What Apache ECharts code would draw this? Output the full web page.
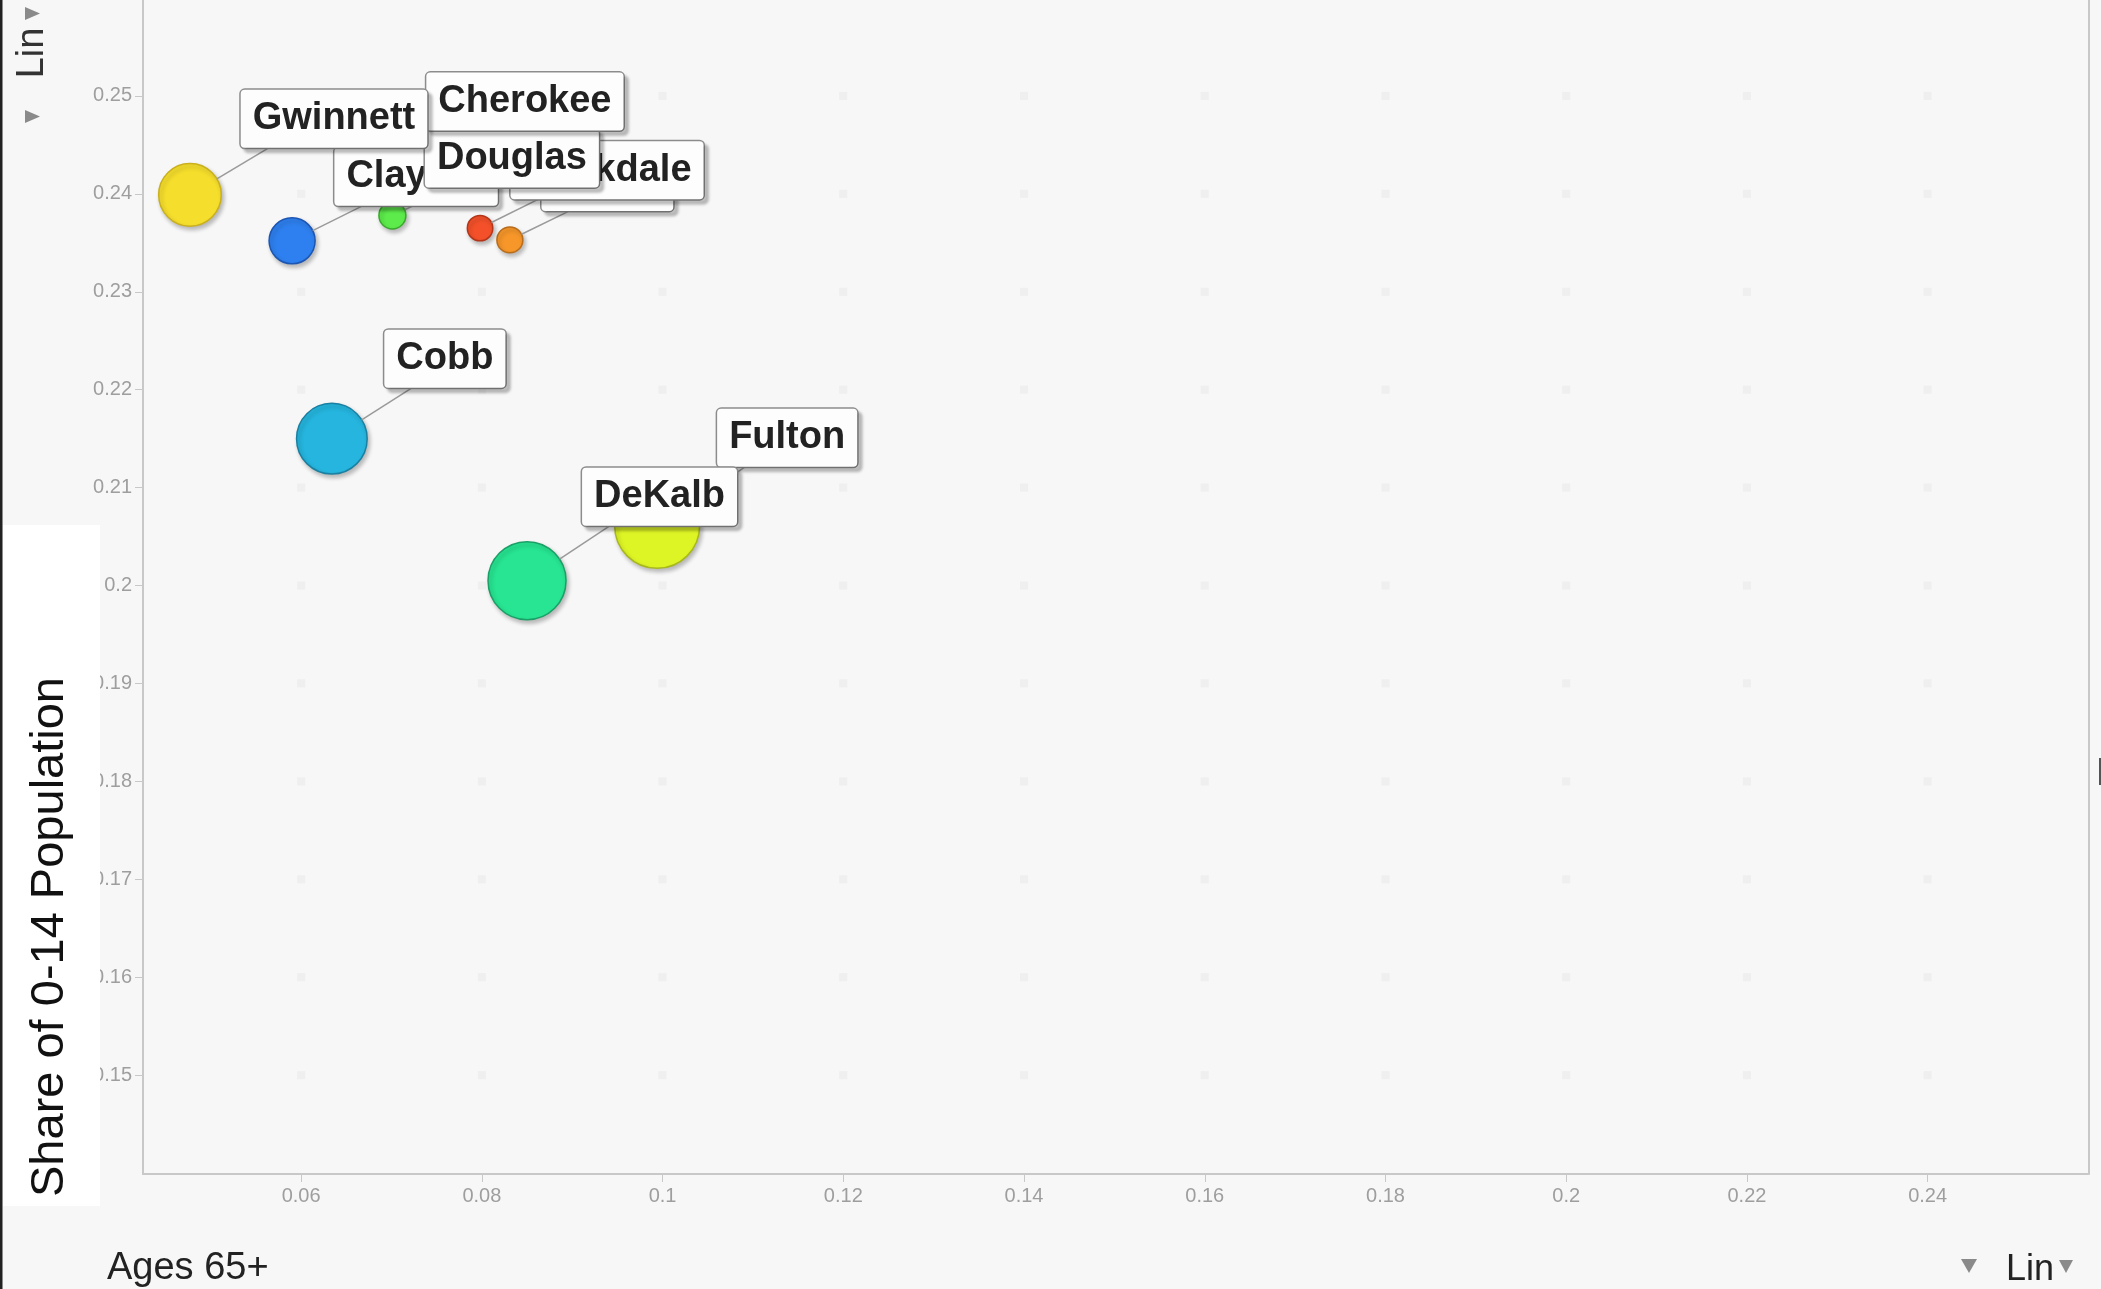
<!DOCTYPE html>
<html>
<head>
<meta charset="utf-8">
<script src="https://cdn.jsdelivr.net/npm/echarts@6/dist/echarts.min.js"></script>
<style>
html, body { margin: 0; padding: 0; background: #f7f7f7; }
#chart { width: 2101px; height: 1289px; }
</style>
</head>
<body>
<div id="chart"></div>
<script>
// data (tags later in the list are drawn on top)
var counties  = ['Cobb', 'Fulton', 'DeKalb', 'Henry', 'Clayton', 'Rockdale', 'Douglas', 'Cherokee', 'Gwinnett'];
var age65     = [0.0634, 0.0994, 0.0850, 0.0831, 0.0590, 0.0798, 0.0701, 0.0732, 0.0477];
var age0to14  = [0.2150, 0.2061, 0.2005, 0.2353, 0.2352, 0.2365, 0.2378, 0.2435, 0.2399];
var bubbleSize = [563, 816, 687, 76, 239, 73, 82, 80, 443];
var xTicks = [0.06, 0.08, 0.1, 0.12, 0.14, 0.16, 0.18, 0.2, 0.22, 0.24];
var yTicks = [0.15, 0.16, 0.17, 0.18, 0.19, 0.2, 0.21, 0.22, 0.23, 0.24, 0.25];

// styling
var fillColors = ['#25B5DE', '#DEF525', '#27E592', '#F7972A', '#2E80F0', '#F4512A', '#5DEB4B', '#A35AF0', '#F6DE2C'];
var edgeColors = ['#1a80a2', '#a8b81a', '#1aa066', '#b96c1a', '#1c56b4', '#b3361a', '#3aa82c', '#6a30b0', '#c9b01c'];
var labelOffsets = [[113, -80], [130, -88], [132.5, -84], [97.5, -58], [124, -64], [127, -58], [119.5, -57], [104.5, -58], [144, -76]];
var noLine = ['Cherokee'];
var FONT = 'Liberation Sans, Arial, sans-serif';
var TAG_FONT = 'bold 38px ' + FONT;
var TAG_H = 58, TAG_PADX = 12, LINE_INSET = 28;

var dots = [];
xTicks.forEach(function (x) {
    yTicks.forEach(function (y) { dots.push([x, y]); });
});

var points = counties.map(function (name, i) {
    return [age65[i], age0to14[i], bubbleSize[i]];
});

var bubbleDiameter = function (s) { return 85 * Math.sqrt(s / 816); };

var measure = document.createElement('canvas').getContext('2d');
measure.font = TAG_FONT;
var tagWidth = function (txt) { return measure.measureText(txt).width + 2 * TAG_PADX; };

var chart = echarts.init(document.getElementById('chart'));

var fmt = function (v) { return String(+(+v).toFixed(2)); };

chart.setOption({
    backgroundColor: '#f7f7f7',
    animation: false,
    grid: { left: 143, right: 12.5, top: 0, bottom: 115, outerBoundsMode: 'none' },
    xAxis: {
        type: 'value', min: 0.0425, max: 0.2578,
        axisLine: { lineStyle: { color: '#c8c8c8', width: 2 } },
        axisTick: { show: true, customValues: xTicks, length: 8, lineStyle: { color: '#c8c8c8', width: 1 } },
        axisLabel: { customValues: xTicks, formatter: fmt, color: '#9e9e9e', fontSize: 20, margin: 12, fontFamily: FONT },
        splitLine: { show: false }
    },
    yAxis: [{
        type: 'value', min: 0.1399, max: 0.2598,
        axisLine: { show: true, lineStyle: { color: '#c8c8c8', width: 2 } },
        axisTick: { show: true, customValues: yTicks, length: 8, lineStyle: { color: '#c8c8c8', width: 1 } },
        axisLabel: { customValues: yTicks, formatter: fmt, color: '#9e9e9e', fontSize: 20, margin: 11, fontFamily: FONT },
        splitLine: { show: false }
    }, {
        type: 'value', min: 0.1399, max: 0.2598, position: 'right',
        axisLine: { show: true, lineStyle: { color: '#c8c8c8', width: 2 } },
        axisTick: { show: false }, axisLabel: { show: false }, splitLine: { show: false }
    }],
    series: [{
        // faint dot grid at tick crossings
        type: 'scatter', silent: true, z: 1,
        symbol: 'rect', symbolSize: 8,
        itemStyle: { color: '#ececec' },
        data: dots
    }, {
        // bubbles
        type: 'scatter', z: 2, silent: true,
        data: points.map(function (v, i) {
            return { name: counties[i], value: v, itemStyle: { color: fillColors[i], borderColor: edgeColors[i] } };
        }),
        symbolSize: function (v) { return bubbleDiameter(v[2]); },
        itemStyle: {
            opacity: 1, borderWidth: 1.5,
            shadowColor: 'rgba(0,0,0,0.25)', shadowBlur: 4, shadowOffsetX: 2, shadowOffsetY: 3
        }
    }, {
        // leader lines from bubble to tag
        type: 'custom', z: 3, silent: true, clip: false,
        data: points,
        renderItem: function (params, api) {
            var i = params.dataIndex;
            if (noLine.indexOf(counties[i]) >= 0) return null;
            var c = api.coord([api.value(0), api.value(1)]);
            var r = bubbleDiameter(api.value(2)) / 2;
            var o = labelOffsets[i];
            var w = tagWidth(counties[i]);
            var ax = c[0] + o[0] - w / 2 + LINE_INSET;
            var ay = c[1] + o[1] + TAG_H / 2;
            var dx = ax - c[0], dy = ay - c[1], d = Math.sqrt(dx * dx + dy * dy);
            return {
                type: 'line',
                shape: { x1: c[0] + dx / d * r, y1: c[1] + dy / d * r, x2: ax, y2: ay },
                style: { stroke: '#9a9a9a', lineWidth: 1.5 }
            };
        }
    }, {
        // name tags
        type: 'custom', z: 4, silent: true, clip: false,
        data: points,
        renderItem: function (params, api) {
            var i = params.dataIndex;
            var c = api.coord([api.value(0), api.value(1)]);
            var o = labelOffsets[i];
            return {
                type: 'text',
                x: c[0] + o[0], y: c[1] + o[1],
                style: {
                    text: counties[i], font: TAG_FONT, fill: '#222',
                    align: 'center', verticalAlign: 'middle', lineHeight: 40,
                    backgroundColor: '#fdfdfd', borderColor: '#8c8c8c', borderWidth: 1.5, borderRadius: 4,
                    padding: [9, TAG_PADX, 9, TAG_PADX],
                    shadowColor: 'rgba(0,0,0,0.2)', shadowBlur: 3, shadowOffsetX: 4, shadowOffsetY: 4
                }
            };
        }
    }],
    graphic: [
        { type: 'rect', z: 100, shape: { x: 0, y: 0, width: 2.5, height: 1289 }, style: { fill: '#222' } },
        { type: 'rect', z: 100, shape: { x: 3, y: 525, width: 97, height: 681 }, style: { fill: '#ffffff' } },
        { type: 'text', z: 101, x: 50, y: 937, rotation: Math.PI / 2,
          style: { text: 'Share of 0-14 Population', fill: '#111', font: '47px ' + FONT, align: 'center', verticalAlign: 'middle' } },
        { type: 'text', z: 101, x: 33, y: 53, rotation: Math.PI / 2,
          style: { text: 'Lin', fill: '#333', font: '38px ' + FONT, align: 'center', verticalAlign: 'middle' } },
        { type: 'polygon', z: 101, shape: { points: [[25, 7], [40, 13.5], [25, 20]] }, style: { fill: '#8a8a8a' } },
        { type: 'polygon', z: 101, shape: { points: [[25, 110], [40, 116.5], [25, 123]] }, style: { fill: '#8a8a8a' } },
        { type: 'text', z: 101, x: 107, y: 1269,
          style: { text: 'Ages 65+', fill: '#222', font: '38px ' + FONT, align: 'left', verticalAlign: 'middle' } },
        { type: 'polygon', z: 101, shape: { points: [[1961, 1259], [1977, 1259], [1969, 1273]] }, style: { fill: '#8a8a8a' } },
        { type: 'text', z: 101, x: 2006, y: 1270,
          style: { text: 'Lin', fill: '#222', font: '36px ' + FONT, align: 'left', verticalAlign: 'middle' } },
        { type: 'polygon', z: 101, shape: { points: [[2059, 1260], [2073, 1260], [2066, 1273]] }, style: { fill: '#8a8a8a' } },
        { type: 'rect', z: 100, shape: { x: 2099, y: 758, width: 2, height: 27 }, style: { fill: '#555' } }
    ]
});
</script>
</body>
</html>
